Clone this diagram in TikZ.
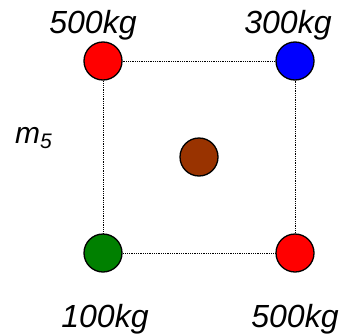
\documentclass[tikz,border=0pt]{standalone}
\usepackage{fontspec}
\setmainfont{Liberation Sans}
\begin{document}
\begin{tikzpicture}[x=1pt,y=1pt,
  mass/.style={circle,draw=black,line width=1.3pt,minimum size=38pt,inner sep=0pt},
  lbl/.style={font=\fontsize{32}{32}\selectfont\itshape,anchor=base,inner sep=0pt},
  edge/.style={densely dotted,line width=0.8pt}]
\useasboundingbox (0,0) rectangle (342,333);
\node[mass,fill={rgb,255:red,255;green,0;blue,0}] (tl) at (103,272) {};
\node[mass,fill={rgb,255:red,0;green,0;blue,255}] (tr) at (295,272) {};
\node[mass,fill={rgb,255:red,0;green,128;blue,0}] (bl) at (103,80) {};
\node[mass,fill={rgb,255:red,255;green,0;blue,0}] (br) at (295,80) {};
\node[mass,fill={rgb,255:red,153;green,51;blue,0}] (c) at (199,176) {};
\draw[edge] (tl) -- (tr);
\draw[edge] (tr) -- (br);
\draw[edge] (br) -- (bl);
\draw[edge] (bl) -- (tl);
\node[lbl] (ltl) at (93,300) {500kg};
\node[lbl] (ltr) at (288,300) {300kg};
\node[lbl] (lbl1) at (105,6) {100kg};
\node[lbl] (lbr) at (295,6) {500kg};
\node[font=\fontsize{30}{30}\selectfont\itshape,anchor=base west,inner sep=0pt] (m5) at (15,190) {m\raisebox{-5pt}{\fontsize{21}{21}\selectfont 5}};
\end{tikzpicture}
\end{document}
